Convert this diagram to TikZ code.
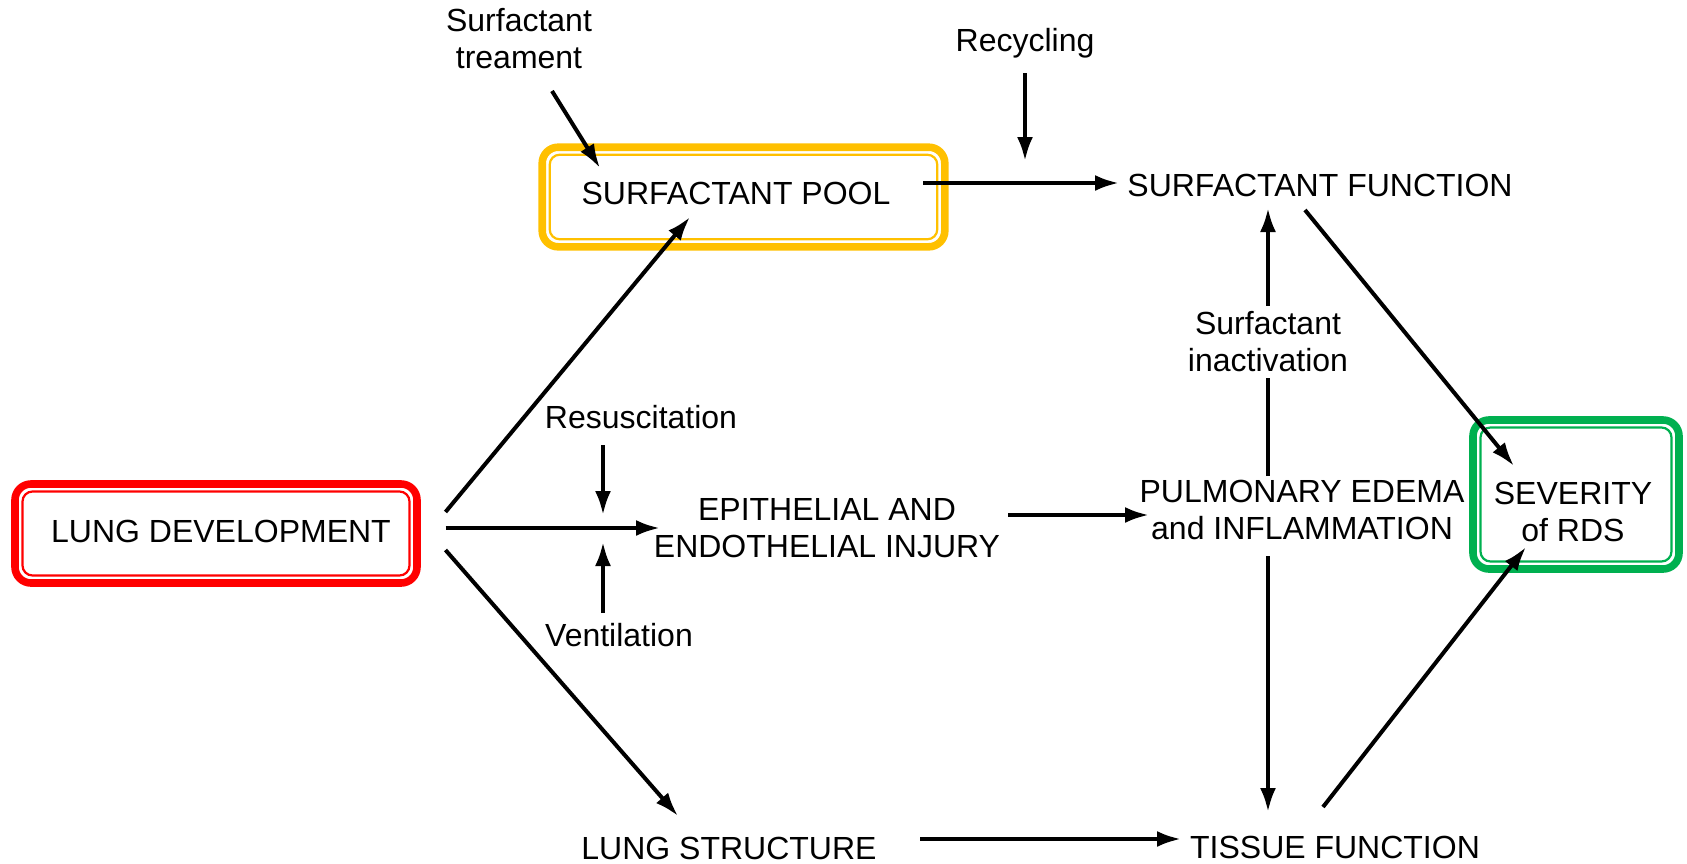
\documentclass[tikz,border=0pt]{standalone}
\usepackage{fontspec}
\setmainfont{Liberation Sans}
\usetikzlibrary{calc,arrows.meta}
\definecolor{boxred}{HTML}{FF0000}
\definecolor{boxyellow}{HTML}{FFC000}
\definecolor{boxgreen}{HTML}{00B050}
\tikzset{
  hlbox/.style={draw=#1, line width=3.8pt, rounded corners=8pt, inner sep=0pt, outer sep=0pt},
  hlinner/.style={draw=#1, line width=1.1pt, rounded corners=5pt},
  txt/.style={font=\fontsize{16}{18.5}\selectfont, align=center, inner sep=1pt},
  arr/.style={-{Latex[length=12pt,width=8pt]}, line width=2pt},
}
\begin{document}
\begin{tikzpicture}[x=0.5pt,y=-0.5pt]
\useasboundingbox (0,0) rectangle (1687,863);
% highlight boxes
\node[hlbox=boxred, minimum width=201pt, minimum height=49.5pt] (ldbox) at (216,533.5) {};
\draw[hlinner=boxred] ($(ldbox.south west)+(7.5,-7.5)$) rectangle ($(ldbox.north east)+(-7.5,7.5)$);
\node[hlbox=boxyellow, minimum width=201.3pt, minimum height=49.8pt] (spbox) at (743.5,197) {};
\draw[hlinner=boxyellow] ($(spbox.south west)+(7.5,-7.5)$) rectangle ($(spbox.north east)+(-7.5,7.5)$);
\node[hlbox=boxgreen, minimum width=103pt, minimum height=74.5pt] (sevbox) at (1576,494.5) {};
\draw[hlinner=boxgreen] ($(sevbox.south west)+(7.5,-7.5)$) rectangle ($(sevbox.north east)+(-7.5,7.5)$);
% text nodes
\node[txt] (ldt) at (221,531) {LUNG DEVELOPMENT};
\node[txt] (spt) at (736,193) {SURFACTANT POOL};
\node[txt] (sft) at (1320,185) {SURFACTANT FUNCTION};
\node[txt] (epi) at (827,528) {EPITHELIAL AND\\ENDOTHELIAL INJURY};
\node[txt, fill=white] (pe) at (1302,510) {PULMONARY EDEMA\\and INFLAMMATION};
\node[txt] (sev) at (1573,512) {SEVERITY\\of RDS};
\node[txt] (ls) at (729,848) {LUNG STRUCTURE};
\node[txt] (tf) at (1335,847) {TISSUE FUNCTION};
\node[txt] (treat) at (519,39) {Surfactant\\treament};
\node[txt] (recyc) at (1025,43) {Recycling};
\node[txt] (resus) at (641,417) {Resuscitation};
\node[txt] (vent) at (619,635) {Ventilation};
% free ends
\coordinate (rcend) at (1025,161);
\coordinate (rsend) at (603,515);
\coordinate (vtend) at (603,542);
% connectors
\draw[arr] ($(ldbox.east)+(28.5,-21.5)$) -- ($(spt)+(-46,24)$);
\draw[arr] ($(ldbox.east)+(28.5,-5.5)$) -- ($(epi)+(-167,0)$);
\draw[arr] ($(ldbox.east)+(28.5,16.5)$) -- ($(ls)+(-51,-32)$);
\draw[arr] ($(treat)+(33,52)$) -- ($(spt)+(-136,-25)$);
\draw[arr] ($(recyc)+(0,30)$) -- (rcend);
\draw[arr] ($(spt)+(187,-10)$) -- ($(sft)+(-201,-2)$);
\draw[arr] ($(sft)+(-15,25)$) -- ($(sev)+(-59,-46)$);
\draw[arr] ($(pe)+(-34,-34)$) -- node[txt, fill=white, inner sep=3pt] (inact) {Surfactant\\inactivation} ($(sft)+(-52,23)$);
\draw[arr] ($(pe)+(-34,46)$) -- ($(tf)+(-67,-35)$);
\draw[arr] ($(epi)+(181,-13)$) -- ($(pe)+(-153,5)$);
\draw[arr] ($(resus)+(-38,28)$) -- (rsend);
\draw[arr] ($(vent)+(-16,-22)$) -- (vtend);
\draw[arr] ($(ls)+(191,-9)$) -- ($(tf)+(-154,-8)$);
\draw[arr] ($(tf)+(-12,-40)$) -- ($(sev)+(-47,35)$);
\end{tikzpicture}
\end{document}
